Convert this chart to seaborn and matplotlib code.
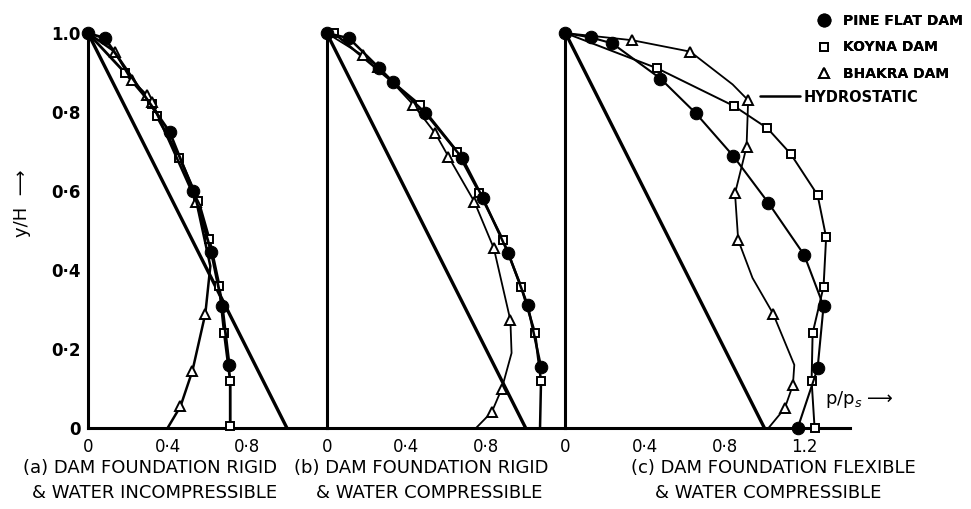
"""
Hydrodynamic pressure distribution on dam faces, three foundation / water cases.
"""

import matplotlib
matplotlib.use('Agg')
import matplotlib.pyplot as plt
from matplotlib.lines import Line2D
import seaborn as sns

# ---- data: p/ps (horizontal) against y/H (vertical) ----
# (a) rigid foundation, incompressible water
a_pine_p = [0.0, 0.085, 0.41, 0.53, 0.62, 0.675, 0.71]
a_pine_y = [1.0, 0.987, 0.75, 0.60, 0.445, 0.31, 0.16]
a_koyna_p = [0.0, 0.185, 0.32, 0.345, 0.46, 0.555, 0.61, 0.66, 0.685, 0.715, 0.715]
a_koyna_y = [1.0, 0.90, 0.82, 0.79, 0.685, 0.575, 0.478, 0.36, 0.24, 0.12, 0.005]
a_bhakra_p = [0.0, 0.135, 0.22, 0.295, 0.32, 0.545, 0.615, 0.59, 0.525, 0.465, 0.40]
a_bhakra_y = [1.0, 0.953, 0.88, 0.843, 0.826, 0.573, 0.41, 0.29, 0.145, 0.055, 0.0]

# (b) rigid foundation, compressible water
b_pine_p = [0.0, 0.112, 0.265, 0.332, 0.495, 0.682, 0.785, 0.913, 1.01, 1.077]
b_pine_y = [1.0, 0.987, 0.911, 0.877, 0.798, 0.683, 0.582, 0.442, 0.311, 0.155]
b_koyna_p = [0.0, 0.036, 0.469, 0.656, 0.767, 0.886, 0.977, 1.047, 1.077, 1.072]
b_koyna_y = [1.0, 1.0, 0.818, 0.70, 0.596, 0.476, 0.358, 0.24, 0.119, 0.0]
b_bhakra_p = [0.0, 0.18, 0.257, 0.436, 0.546, 0.612, 0.742, 0.84, 0.923, 0.929, 0.88, 0.83, 0.75]
b_bhakra_y = [1.0, 0.944, 0.915, 0.818, 0.746, 0.687, 0.573, 0.455, 0.273, 0.19, 0.10, 0.041, 0.0]

# (c) flexible foundation, compressible water
c_pine_p = [0.0, 0.127, 0.235, 0.477, 0.655, 0.843, 1.02, 1.2, 1.297, 1.267, 1.167]
c_pine_y = [1.0, 0.989, 0.974, 0.885, 0.797, 0.689, 0.570, 0.438, 0.309, 0.151, 0.0]
c_koyna_p = [0.0, 0.46, 0.848, 1.015, 1.132, 1.267, 1.31, 1.297, 1.242, 1.237, 1.252]
c_koyna_y = [1.0, 0.911, 0.815, 0.759, 0.694, 0.59, 0.483, 0.358, 0.24, 0.119, 0.0]
c_bhakra_p = [0.0, 0.335, 0.627, 0.84, 0.918, 0.91, 0.852, 0.868, 0.94, 1.043, 1.15, 1.143, 1.102, 1.02]
c_bhakra_y = [1.0, 0.982, 0.953, 0.87, 0.83, 0.712, 0.594, 0.476, 0.38, 0.29, 0.16, 0.109, 0.05, 0.0]

hydro_p = [0.0, 1.0]
hydro_y = [1.0, 0.0]

caption_top = ['(a) DAM FOUNDATION RIGID', '(b) DAM FOUNDATION RIGID',
               '(c) DAM FOUNDATION FLEXIBLE']
caption_bottom = ['& WATER INCOMPRESSIBLE', '& WATER COMPRESSIBLE', '& WATER COMPRESSIBLE']
x_tick_labels = ['0', '0\u00b74', '0\u00b78', '1.2']
y_tick_labels = ['0', '0\u00b72', '0\u00b74', '0\u00b76', '0\u00b78', '1.0']

sns.set_style('white')
plt.rcParams['font.family'] = ['DejaVu Sans']
for key in ['text.color', 'axes.labelcolor', 'xtick.color', 'ytick.color']:
    plt.rcParams[key] = 'black'

STYLE = {
    'pine': dict(marker='o', markersize=9, markerfacecolor='black', markeredgecolor='black'),
    'koyna': dict(marker='s', markersize=6, markerfacecolor='white', markeredgecolor='black',
                  markeredgewidth=1.4),
    'bhakra': dict(marker='^', markersize=7, markerfacecolor='white', markeredgecolor='black',
                   markeredgewidth=1.4),
}


def draw_curve(ax, p, y, kind, mark_idx, lw):
    """Draw one response curve with markers on the chosen points."""
    sns.lineplot(x=p, y=y, ax=ax, sort=False, estimator=None, color='black', lw=lw,
                 markevery=mark_idx, clip_on=False, zorder=3, **STYLE[kind])


def style_axis(ax, xmax, labelled):
    ax.set_xlim(0, xmax)
    ax.set_ylim(0, 1.0)
    for side in ['top', 'right']:
        ax.spines[side].set_visible(False)
    for side in ['left', 'bottom']:
        ax.spines[side].set_linewidth(2.2)
        ax.spines[side].set_color('black')
    xmaj = [0, 0.4, 0.8, 1.2] if xmax > 1.3 else [0, 0.4, 0.8]
    ax.set_xticks(xmaj)
    ax.set_xticklabels(x_tick_labels[:len(xmaj)])
    ax.set_xticks([0.2, 0.6, 1.0], minor=True)
    ax.set_yticks([0, 0.2, 0.4, 0.6, 0.8, 1.0])
    ax.set_yticks([0.1, 0.3, 0.5, 0.7, 0.9], minor=True)
    ax.tick_params(which='both', direction='in', length=7, width=1.5, colors='black')
    ax.tick_params(axis='x', pad=7, labelsize=12)
    if labelled:
        ax.set_yticklabels(y_tick_labels, fontweight='bold')
        ax.tick_params(axis='y', pad=5, labelsize=12)
    else:
        ax.set_yticklabels([])
    ax.set_xlabel('')
    ax.set_ylabel('')


fig, axes = plt.subplots(1, 3, figsize=(9.71, 5.09), dpi=100,
                         gridspec_kw={'width_ratios': [1.2, 1.2, 1.43], 'wspace': 0})
plt.subplots_adjust(left=0.0906, right=0.8754, bottom=0.159, top=0.935)

# (a)
ax = axes[0]
sns.lineplot(x=hydro_p, y=hydro_y, ax=ax, sort=False, color='black', lw=2.4)
draw_curve(ax, a_koyna_p, a_koyna_y, 'koyna', list(range(1, 11)), 2.0)
draw_curve(ax, a_bhakra_p, a_bhakra_y, 'bhakra', [1, 2, 3, 4, 5, 7, 8, 9], 1.8)
draw_curve(ax, a_pine_p, a_pine_y, 'pine', list(range(0, 7)), 2.0)
style_axis(ax, 1.2, True)

# (b)
ax = axes[1]
sns.lineplot(x=hydro_p, y=hydro_y, ax=ax, sort=False, color='black', lw=2.4)
draw_curve(ax, b_koyna_p, b_koyna_y, 'koyna', list(range(1, 9)), 1.8)
draw_curve(ax, b_bhakra_p, b_bhakra_y, 'bhakra', [1, 2, 3, 4, 5, 6, 7, 8, 10, 11], 1.3)
draw_curve(ax, b_pine_p, b_pine_y, 'pine', list(range(0, 10)), 1.8)
style_axis(ax, 1.2, False)

# (c)
ax = axes[2]
sns.lineplot(x=hydro_p, y=hydro_y, ax=ax, sort=False, color='black', lw=2.4)
draw_curve(ax, c_koyna_p, c_koyna_y, 'koyna', list(range(1, 11)), 1.4)
draw_curve(ax, c_bhakra_p, c_bhakra_y, 'bhakra', [1, 2, 4, 5, 6, 7, 9, 11, 12], 1.3)
draw_curve(ax, c_pine_p, c_pine_y, 'pine', list(range(0, 11)), 1.5)
style_axis(ax, 1.43, False)

# captions under each panel, two lines each
for x1, x2, t1, t2 in zip([150, 421, 773], [155, 429, 768], caption_top, caption_bottom):
    fig.text(x1 / 971, 1 - 468 / 509, t1, ha='center', va='center', fontsize=13)
    fig.text(x2 / 971, 1 - 493 / 509, t2, ha='center', va='center', fontsize=13)

fig.text(22 / 971, 1 - 203 / 509, 'y/H  \u27f6', rotation=90, ha='center', va='center',
         fontsize=13)
fig.text(825 / 971, 1 - 400 / 509, 'p/p$_s$ \u27f6', ha='left', va='center', fontsize=13)

# legend
handles = [Line2D([], [], linestyle='None', color='black', **STYLE[k])
           for k in ['pine', 'koyna', 'bhakra']]
leg = fig.legend(handles, ['PINE FLAT DAM', 'KOYNA DAM', 'BHAKRA DAM'],
                 loc='upper left', bbox_to_anchor=(810 / 971, 1 - 7 / 509), frameon=False,
                 handlelength=1.0, handletextpad=0.85, labelspacing=0.9, borderpad=0,
                 prop={'size': 10, 'weight': 'bold'})
fig.add_artist(leg)
fig.legend([Line2D([], [], color='black', lw=1.8)], ['HYDROSTATIC'],
           loc='center left', bbox_to_anchor=(753 / 971, 1 - 97 / 509), frameon=False,
           handlelength=2.7, handletextpad=0.3, borderpad=0,
           prop={'size': 10.5, 'weight': 'bold'})

fig.savefig('out.png', dpi=100, facecolor='white')
